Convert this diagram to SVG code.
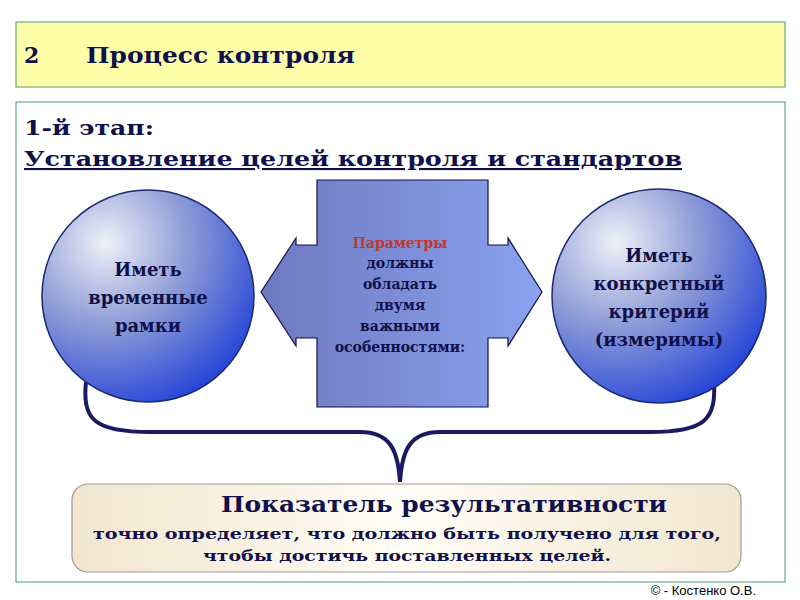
<svg xmlns="http://www.w3.org/2000/svg" width="800" height="600" viewBox="0 0 800 600">
<defs>
<radialGradient id="cg" cx="0.3" cy="0.25" r="0.85">
<stop offset="0" stop-color="#eef0f8"/><stop offset="0.45" stop-color="#8f9dd6"/><stop offset="1" stop-color="#1f3fd8"/>
</radialGradient>
<linearGradient id="xg" x1="0" x2="1" y1="0" y2="0">
<stop offset="0" stop-color="#6e79c0"/><stop offset="1" stop-color="#8aa2ef"/>
</linearGradient>
<linearGradient id="bg" x1="0" x2="1" y1="0" y2="0">
<stop offset="0" stop-color="#f2e6cf"/><stop offset="0.5" stop-color="#fffdf6"/><stop offset="1" stop-color="#f2e6cf"/>
</linearGradient>
</defs>
<style>
text{font-family:"DejaVu Serif","Liberation Serif",serif;font-weight:bold;fill:#10104a}
.c{text-anchor:middle;font-size:18px}
.m{text-anchor:middle;font-size:14px}
</style>
<rect width="800" height="600" fill="#fff"/>
<g id="title"><rect x="16" y="22" width="769" height="65" fill="#ffffaa" stroke="#4a9a6a"/>
<text x="24" y="63" font-size="22">2</text><text x="86" y="63" font-size="22" textLength="269" lengthAdjust="spacingAndGlyphs">Процесс контроля</text></g>
<g id="panel"><rect x="16" y="102" width="769" height="480" fill="#fff" stroke="#4a9a6a"/>
<text x="24" y="135" font-size="21" textLength="130" lengthAdjust="spacingAndGlyphs">1-й этап:</text>
<text x="24" y="166" font-size="21" text-decoration="underline" textLength="658" lengthAdjust="spacingAndGlyphs">Установление целей контроля и стандартов</text></g>
<g id="connectors"><path d="M86,382 C82,420 95,432 150,432 L360,432 C390,432 398,450 400,482 C402,450 410,432 440,432 L650,432 C705,432 716,420 714,382" fill="none" stroke="#1a1a60" stroke-width="4"/></g>
<g id="left"><circle cx="148" cy="296" r="106" fill="url(#cg)" stroke="#1a2a70" stroke-width="1.5"/>
<text class="c" x="148" y="276">Иметь</text><text class="c" x="148" y="304">временные</text><text class="c" x="148" y="332">рамки</text></g>
<g id="right"><circle cx="659" cy="296" r="107" fill="url(#cg)" stroke="#1a2a70" stroke-width="1.5"/>
<text class="c" x="659" y="262">Иметь</text><text class="c" x="659" y="290">конкретный</text><text class="c" x="659" y="318">критерий</text><text class="c" x="659" y="346">(измеримы)</text></g>
<g id="center"><path d="M317,180 H488 V245 H508 V238 L542,292 L508,346 V338 H488 V407 H317 V338 H296 V346 L261,292 L296,238 V245 H317 Z" fill="url(#xg)" stroke="#10104a" stroke-width="1.2"/>
<text class="m" x="400" y="248" style="fill:#c0392b">Параметры</text>
<text class="m" x="400" y="268">должны</text><text class="m" x="400" y="289">обладать</text><text class="m" x="400" y="310">двумя</text><text class="m" x="400" y="331">важными</text><text class="m" x="400" y="352">особенностями:</text></g>
<g id="bottom"><rect x="72" y="484" width="669" height="88" rx="16" fill="url(#bg)" stroke="#999" stroke-width="1.2"/>
<text x="444" y="512" font-size="22" text-anchor="middle" textLength="446" lengthAdjust="spacingAndGlyphs">Показатель результативности</text>
<text x="407" y="539" font-size="15" text-anchor="middle" textLength="628" lengthAdjust="spacingAndGlyphs">точно определяет, что должно быть получено для того,</text>
<text x="407" y="561" font-size="15" text-anchor="middle" textLength="408" lengthAdjust="spacingAndGlyphs">чтобы достичь поставленных целей.</text></g>
<text x="756" y="595" font-size="13" text-anchor="end" style="font-family:'Liberation Sans',sans-serif;font-weight:normal;fill:#000">© - Костенко О.В.</text>
</svg>
